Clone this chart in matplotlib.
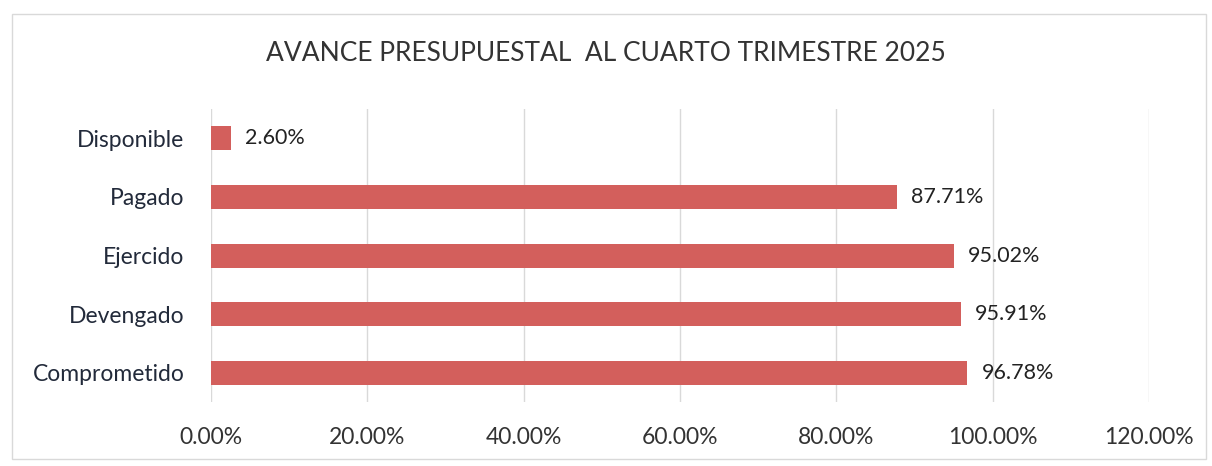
import matplotlib
matplotlib.use("Agg")
import matplotlib.pyplot as plt
from matplotlib.patches import Rectangle

categories = ["Comprometido", "Devengado", "Ejercido", "Pagado", "Disponible"]
values = [96.78, 95.91, 95.02, 87.71, 2.60]
xticks = [0, 20, 40, 60, 80, 100, 120]
title = "AVANCE PRESUPUESTAL  AL CUARTO TRIMESTRE 2025"

plt.rcParams['font.family'] = ['Lato', 'DejaVu Sans']

fig = plt.figure(figsize=(12.12, 4.66), dpi=100)
fig.patch.set_facecolor('white')
fig.add_artist(Rectangle((0.01, 0.015), 0.985, 0.955, transform=fig.transFigure,
                         fill=False, edgecolor='#d9d9d9', linewidth=1))

ax = fig.add_axes([0.174, 0.137, 0.774, 0.629])
y = list(range(len(categories)))
ax.barh(y, values, height=0.41, color='#d35f5c')
for yi, v in zip(y, values):
    ax.text(v + 1.8, yi, f"{v:.2f}%", va='center', ha='left', fontsize=15.5, color='#222222')

ax.set_xlim(0, 120)
ax.set_ylim(-0.5, len(categories) - 0.5)
ax.set_xticks(xticks)
ax.set_xticklabels([f"{t:.2f}%" for t in xticks], fontsize=16.5, color='#333333')
ax.set_yticks(y)
ax.set_yticklabels(categories, fontsize=16.5, color='#222a3a')
ax.tick_params(axis='both', length=0)
ax.tick_params(axis='x', pad=18)
ax.tick_params(axis='y', pad=19)
ax.grid(axis='x', color='#d9d9d9', linewidth=1)
ax.set_axisbelow(True)
for s in ax.spines.values():
    s.set_visible(False)

fig.text(0.5, 0.885, title, ha='center', va='center', fontsize=19, color='#333333')

fig.savefig("out.png", dpi=100)
